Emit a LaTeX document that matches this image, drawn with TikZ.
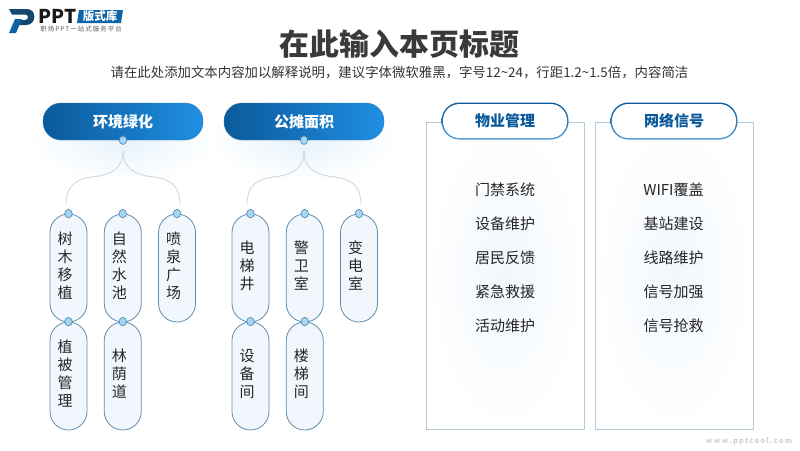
\documentclass[tikz,border=0pt]{standalone}
\usepackage{fontspec}
\setmainfont{Noto Sans CJK SC}
\usepackage{tikz}
\usetikzlibrary{positioning,shapes.geometric}

\definecolor{deepblue}{HTML}{0B5A9B}
\definecolor{lightblue}{HTML}{1F8FE3}
\definecolor{rimblue}{HTML}{4F9BD6}
\definecolor{pillline}{HTML}{5F8CAB}
\definecolor{pillfill}{HTML}{F1F7FD}
\definecolor{dotfill}{HTML}{A6D5F2}
\definecolor{dotline}{HTML}{4B86AE}
\definecolor{framegray}{HTML}{B4CAD6}
\definecolor{treeline}{HTML}{C5D5E0}
\definecolor{titlegray}{HTML}{3A3A3A}
\definecolor{logoblue}{HTML}{12486F}

\tikzset{
  headbox/.style={rectangle,rounded corners=18pt,minimum width=160pt,minimum height=37pt,
    inner sep=0pt,left color=deepblue,right color=lightblue,draw=deepblue!80,line width=0.4pt,
    text=white,font=\fontsize{15}{16}\selectfont\bfseries},
  pillbox/.style={rectangle,rounded corners=18.5pt,minimum width=37pt,minimum height=108pt,
    inner sep=0pt,fill=pillfill,draw=pillline,line width=0.8pt,text width=22pt,align=left,text=black!85,
    font=\fontsize{15}{18}\selectfont,execute at end node={\par\vspace*{4pt}}},
  dotbox/.style={ellipse,minimum width=7.5pt,minimum height=8.5pt,inner sep=0pt,
    fill=dotfill,draw=dotline,line width=0.6pt},
  rimbox/.style={rectangle,rounded corners=18pt,minimum width=127pt,minimum height=37pt,
    inner sep=0pt,top color=deepblue,bottom color=rimblue},
  tabbox/.style={rectangle,rounded corners=16.5pt,minimum width=124pt,minimum height=34pt,
    inner sep=0pt,fill=white,text=deepblue,
    font=\fontsize{15}{16}\selectfont\bfseries},
  framebox/.style={rectangle,draw=framegray,line width=0.7pt,inner color=pillfill,outer color=white,inner sep=0pt},
  itemtext/.style={text=black!85,font=\fontsize{15}{16}\selectfont},
  treepath/.style={draw=treeline,line width=0.8pt}
}

\begin{document}
\begin{tikzpicture}[x=1pt,y=-1pt,node distance=54.25pt]
  \useasboundingbox (0,0) rectangle (800,450);

  % logo
  \fill[logoblue] (9,9) -- (27,9) .. controls (37,9) and (37,25) .. (26,25) -- (18,25) -- (20.5,20) -- (25,20) .. controls (29,20) and (29,14.5) .. (25,14.5) -- (12,14.5) -- cycle;
  \fill[deepblue!85!lightblue] (15,19) -- (22,19) -- (16,33) -- (9,33) -- cycle;
  \node[inner sep=0pt,font=\fontsize{19}{19}\selectfont\bfseries,text=black!90] (logotext) at (57.5,16.5) {PPT};
  \fill[deepblue!80!lightblue] (79,10) -- (123,10) -- (121,23) -- (77,23) -- cycle;
  \node[inner sep=0pt,text=white,font=\fontsize{11.5}{12}\selectfont\bfseries] (logobadge) at (100,16.5) {版式库};
  \node[inner sep=0pt,text=black!65,font=\fontsize{6.4}{7}\selectfont\addfontfeature{LetterSpace=17}] (logosub) at (81,29) {职场PPT一站式服务平台};

  % title
  \node[inner sep=0pt,text=titlegray,font=\fontsize{29.9}{32}\selectfont\bfseries] (title) at (399.5,44) {在此输入本页标题};
  \node[inner sep=0pt,text=black!80,font=\fontsize{13.4}{14}\selectfont] (subtitle) [below of=title,node distance=29pt] {请在此处添加文本内容加以解释说明，建议字体微软雅黑，字号12\textasciitilde 24，行距1.2\textasciitilde 1.5倍，内容简洁};

  % soft glow under the two heads
  \shade[inner color=lightblue!11,outer color=white] (123,140) ellipse (95 and 42);
  \shade[inner color=lightblue!11,outer color=white] (304,140) ellipse (95 and 42);

  % left group
  \node[headbox] (env) at (123,121.5) {环境绿化};
  \node[headbox] (pub) at (304,121.5) {公摊面积};

  \node[pillbox] (tree) at (68.5,268) {树\\木\\移\\植};
  \node[pillbox] (pond) [right of=tree] {自\\然\\水\\池};
  \node[pillbox] (foun) [right of=pond] {喷\\泉\\广\\场};
  \node[pillbox] (veg) [below of=tree,node distance=108pt] {植\\被\\管\\理};
  \node[pillbox] (shade) [below of=pond,node distance=108pt] {林\\荫\\道};

  \node[pillbox] (lift) at (250.5,268) {电\\梯\\井};
  \node[pillbox] (guard) [right of=lift] {警\\卫\\室};
  \node[pillbox] (power) [right of=guard] {变\\电\\室};
  \node[pillbox] (equip) [below of=lift,node distance=108pt] {设\\备\\间};
  \node[pillbox] (stair) [below of=guard,node distance=108pt] {楼\\梯\\间};

  \node[dotbox] (envdot) at (env.south) {};
  \node[dotbox] (pubdot) at (pub.south) {};
  \node[dotbox] (treedot) at (tree.north) {};
  \node[dotbox] (ponddot) at (pond.north) {};
  \node[dotbox] (foundot) at (foun.north) {};
  \node[dotbox] (vegdot) at (veg.north) {};
  \node[dotbox] (shadedot) at (shade.north) {};
  \node[dotbox] (liftdot) at (lift.north) {};
  \node[dotbox] (guarddot) at (guard.north) {};
  \node[dotbox] (powerdot) at (power.north) {};
  \node[dotbox] (equipdot) at (equip.north) {};
  \node[dotbox] (stairdot) at (stair.north) {};

  % tree lines
  \coordinate (envtop) at (123,151);
  \coordinate (envleft) at (66,204);
  \coordinate (envright) at (180,204);
  \coordinate (pubtop) at (304,151);
  \coordinate (publeft) at (247,204);
  \coordinate (pubright) at (361,204);
  \draw[treepath] (envtop) .. controls (123,168) and (112,175) .. (92,177) .. controls (74,179) and (66,188) .. (envleft);
  \draw[treepath] (envtop) .. controls (123,168) and (134,175) .. (154,177) .. controls (172,179) and (180,188) .. (envright);
  \draw[treepath] (pubtop) .. controls (304,168) and (293,175) .. (273,177) .. controls (255,179) and (247,188) .. (publeft);
  \draw[treepath] (pubtop) .. controls (304,168) and (315,175) .. (335,177) .. controls (353,179) and (361,188) .. (pubright);

  % right panels
  \node[framebox,minimum width=158pt,minimum height=307pt] (mgmtframe) at (505,275.5) {};
  \node[framebox,minimum width=158pt,minimum height=307pt] (netframe) at (674,275.5) {};
  \node[rimbox] (mgmtrim) at (505,121) {};
  \node[rimbox] (netrim) at (674,121) {};
  \node[tabbox] (mgmt) at (mgmtrim) {物业管理};
  \node[tabbox] (net) at (netrim) {网络信号};

  \node[itemtext] (m1) at (505,190) {门禁系统};
  \node[itemtext] (m2) [below of=m1,node distance=34pt] {设备维护};
  \node[itemtext] (m3) [below of=m2,node distance=34pt] {居民反馈};
  \node[itemtext] (m4) [below of=m3,node distance=34pt] {紧急救援};
  \node[itemtext] (m5) [below of=m4,node distance=34pt] {活动维护};

  \node[itemtext] (n1) at (673.5,190) {WIFI覆盖};
  \node[itemtext] (n2) [below of=n1,node distance=34pt] {基站建设};
  \node[itemtext] (n3) [below of=n2,node distance=34pt] {线路维护};
  \node[itemtext] (n4) [below of=n3,node distance=34pt] {信号加强};
  \node[itemtext] (n5) [below of=n4,node distance=34pt] {信号抢救};

  \node[inner sep=0pt,text=black!18,font=\fontsize{7.3}{10}\selectfont\bfseries] (mark) at (749,441) {w\,w\,w\,.\,p\,p\,t\,c\,o\,o\,l\,.\,c\,o\,m};
\end{tikzpicture}
\end{document}
